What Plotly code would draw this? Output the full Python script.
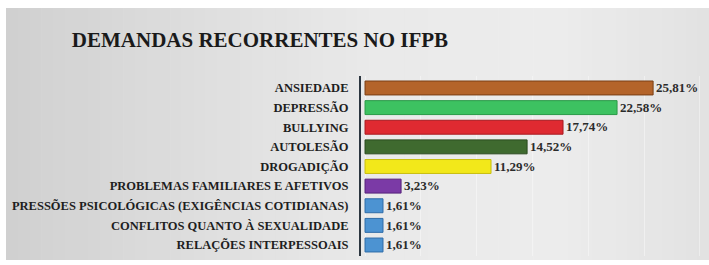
import plotly.graph_objects as go

categories = [
    "ANSIEDADE",
    "DEPRESSÃO",
    "BULLYING",
    "AUTOLESÃO",
    "DROGADIÇÃO",
    "PROBLEMAS FAMILIARES E AFETIVOS",
    "PRESSÕES PSICOLÓGICAS (EXIGÊNCIAS COTIDIANAS)",
    "CONFLITOS QUANTO À SEXUALIDADE",
    "RELAÇÕES INTERPESSOAIS",
]
values = [25.81, 22.58, 17.74, 14.52, 11.29, 3.23, 1.61, 1.61, 1.61]
bar_colors = ["#B4642A", "#3DC261", "#DF2A31", "#3F6A2F", "#F2E81A",
              "#7B3AA6", "#4C93D2", "#4C93D2", "#4C93D2"]
edge_colors = ["#7A3E14", "#2A9A48", "#A81A20", "#2A4A1E", "#C8BE10",
               "#55227A", "#2F6CA8", "#2F6CA8", "#2F6CA8"]
value_labels = [f"{v:.2f}".replace(".", ",") + "%" for v in values]
title_text = "DEMANDAS RECORRENTES NO IFPB"

W, H = 709, 265
ML, MR, MT, MB = 361, 4, 76, 9
PW, PH = W - ML - MR, H - MT - MB


def px_x(px):
    return (px - ML) / PW


def px_y(py):
    return (H - MB - py) / PH


serif = "Liberation Serif, Times New Roman, serif"

fig = go.Figure()
fig.add_trace(go.Bar(
    y=categories,
    x=values,
    orientation="h",
    width=0.71,
    marker=dict(color=bar_colors, line=dict(color=edge_colors, width=1)),
    text=value_labels,
    textposition="outside",
    textfont=dict(family=serif, size=14, color="#2b2b2b", weight="bold"),
    cliponaxis=False,
    hoverinfo="skip",
))

# gray gradient background (horizontal), built from thin strips
shapes = []
stops = [(6, (208, 208, 208)), (200, (222, 222, 222)), (380, (234, 234, 234)),
         (560, (236, 236, 236)), (709, (226, 226, 226))]
n = 60
x0p, x1p = 6, 709
for i in range(n):
    a = x0p + (x1p - x0p) * i / n
    b = x0p + (x1p - x0p) * (i + 1) / n
    m = (a + b) / 2
    for j in range(len(stops) - 1):
        if stops[j][0] <= m <= stops[j + 1][0]:
            t = (m - stops[j][0]) / (stops[j + 1][0] - stops[j][0])
            c = tuple(int(round(stops[j][1][k] + t * (stops[j + 1][1][k] - stops[j][1][k]))) for k in range(3))
            break
    shapes.append(dict(type="rect", xref="paper", yref="paper",
                       x0=px_x(a), x1=px_x(b) + 0.002, y0=px_y(260), y1=px_y(8),
                       fillcolor="rgb(%d,%d,%d)" % c, line=dict(width=0), layer="below"))

fig.update_layout(
    width=W, height=H,
    margin=dict(l=ML, r=MR, t=MT, b=MB, autoexpand=False),
    paper_bgcolor="white",
    plot_bgcolor="rgba(0,0,0,0)",
    showlegend=False,
    shapes=shapes,
    title=dict(text=title_text, x=260 / W, xanchor="center",
               y=1 - 40 / H, yanchor="middle",
               font=dict(family=serif, size=21, color="#1a1a1a", weight="bold")),
    xaxis=dict(range=[-0.36, 30.46], showticklabels=False, showgrid=True,
               gridcolor="rgba(255,255,255,0.4)", gridwidth=1, dtick=5, tick0=0,
               zeroline=False, showline=False, fixedrange=True, automargin=False),
    yaxis=dict(categoryorder="array", categoryarray=categories,
               range=[8.56, -0.61], showline=True, linecolor="#2c3640", linewidth=2,
               ticks="", ticklabelstandoff=8, showgrid=False, automargin=False,
               tickfont=dict(family=serif, size=12.5, color="#1e1e1e", weight="bold"),
               fixedrange=True),
)

fig.write_html("out.html",
               config={"displayModeBar": False, "staticPlot": True},
               post_script="document.body.style.margin='0';document.body.style.overflow='hidden';")
